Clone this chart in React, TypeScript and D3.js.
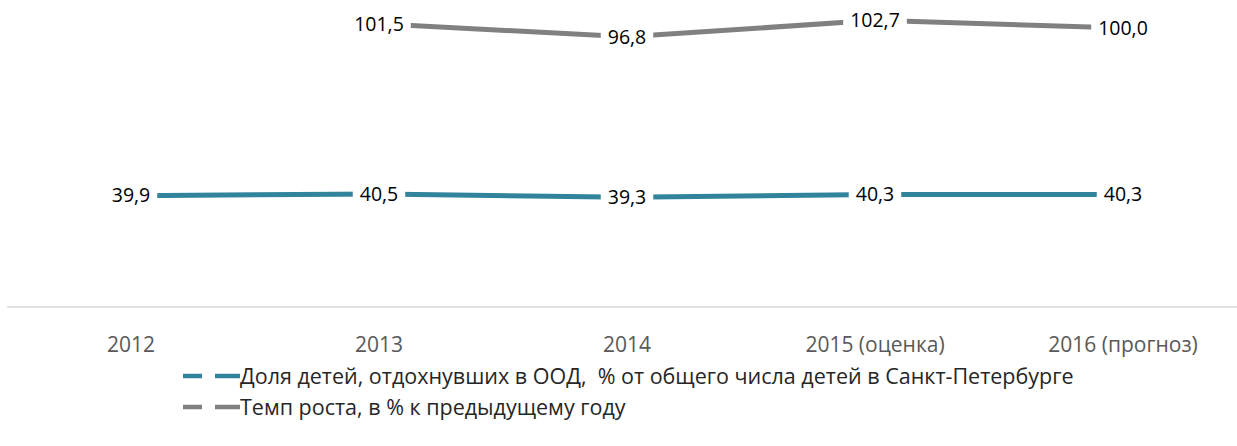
import React, { useEffect, useRef } from 'react'
import * as d3 from 'd3'

const years = ['2012', '2013', '2014', '2015 (оценка)', '2016 (прогноз)']
const shareValues = [39.9, 40.5, 39.3, 40.3, 40.3]
const growthValues = [null, 101.5, 96.8, 102.7, 100.0]
const seriesNames = [
  'Доля детей, отдохнувших в ООД,  % от общего числа детей в Санкт-Петербурге',
  'Темп роста, в % к предыдущему году',
]
const seriesColors = ['#31849B', '#808080']

const width = 1237, height = 446
const axisY = 307

export default function App() {
  const ref = useRef<SVGSVGElement>(null)

  useEffect(() => {
    document.body.style.margin = '0'
    const svg = d3.select(ref.current)
    svg.selectAll('*').remove()

    const x = d3.scaleBand().domain(years).range([7, 1247])
    const y = d3.scaleLinear().domain([0, 110]).range([axisY, 0])
    const cx = (i: number) => x(years[i])! + x.bandwidth() / 2
    const fmt = (v: number) => d3.format('.1f')(v).replace('.', ',')

    // axis line + category labels
    svg.append('line')
      .attr('x1', 7).attr('x2', 1247)
      .attr('y1', axisY).attr('y2', axisY)
      .attr('stroke', '#D9D9D9').attr('stroke-width', 1.5)

    svg.append('g')
      .selectAll('text')
      .data(years)
      .join('text')
      .attr('x', (d, i) => cx(i))
      .attr('y', 345)
      .attr('dy', '0.35em')
      .attr('text-anchor', 'middle')
      .attr('font-size', 21)
      .attr('fill', '#595959')
      .text(d => d)

    const series = [shareValues, growthValues]

    series.forEach((vals, s) => {
      const line = d3.line<number | null>()
        .defined(d => d != null)
        .x((d, i) => cx(i))
        .y(d => y(d as number))
      svg.append('path')
        .attr('d', line(vals))
        .attr('fill', 'none')
        .attr('stroke', seriesColors[s])
        .attr('stroke-width', 5)
    })

    // data labels with white boxes that cut the line
    series.forEach(vals => {
      vals.forEach((v, i) => {
        if (v == null) return
        const g = svg.append('g')
        const t = g.append('text')
          .attr('x', cx(i))
          .attr('y', y(v))
          .attr('dy', '0.35em')
          .attr('text-anchor', 'middle')
          .attr('font-size', 19.5)
          .attr('fill', '#000')
          .text(fmt(v))
        const b = (t.node() as SVGTextElement).getBBox()
        g.insert('rect', 'text')
          .attr('x', b.x - 7).attr('y', b.y - 1)
          .attr('width', b.width + 14).attr('height', b.height + 2)
          .attr('fill', '#fff')
      })
    })

    // legend
    const legend = svg.append('g')
    seriesNames.forEach((name, s) => {
      const ly = 376 + s * 31
      legend.append('line')
        .attr('x1', 183).attr('x2', 240)
        .attr('y1', ly).attr('y2', ly)
        .attr('stroke', seriesColors[s])
        .attr('stroke-width', 4.5)
        .attr('stroke-dasharray', '19 13 30')
      legend.append('text')
        .attr('x', 240).attr('y', ly)
        .attr('dy', '0.35em')
        .attr('font-size', 21.5)
        .attr('fill', '#262626')
        .style('white-space', 'pre')
        .text(name)
    })
  }, [])

  return (
    <svg ref={ref} width={width} height={height}
      style={{ display: 'block', fontFamily: '"Open Sans", sans-serif', background: '#fff' }} />
  )
}
